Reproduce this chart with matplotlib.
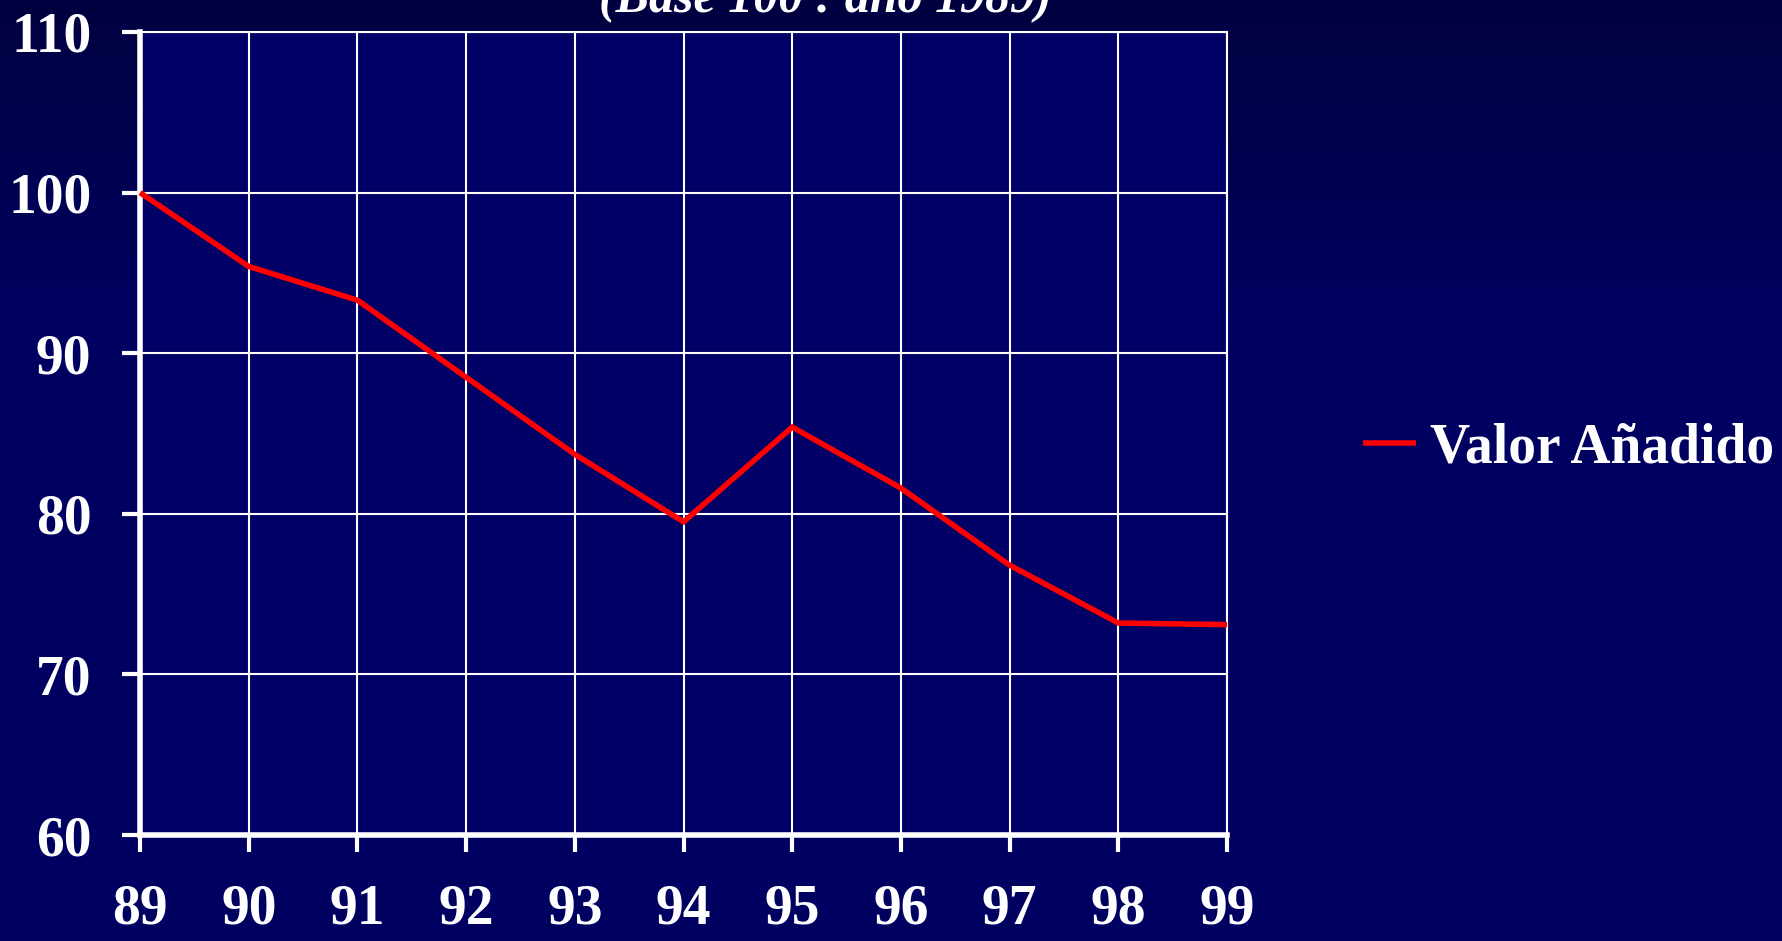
import numpy as np
import matplotlib
matplotlib.use('Agg')
import matplotlib.pyplot as plt

# index values, base 100 = 1989
years = ['89', '90', '91', '92', '93', '94', '95', '96', '97', '98', '99']
valor_anadido = [100, 95.4, 93.3, 88.5, 83.7, 79.5, 85.4, 81.6, 76.8, 73.2, 73.1]
y_ticks = [60, 70, 80, 90, 100, 110]

plt.rcParams['font.family'] = ['Liberation Serif', 'DejaVu Serif']
plt.rcParams['font.weight'] = 'bold'

fig = plt.figure(figsize=(17.82, 9.41), dpi=100)

# background gradient, darker at the top
bg = fig.add_axes([0, 0, 1, 1], zorder=-10)
grad = np.linspace(0, 1, 256).reshape(-1, 1)
top = np.array([0x00, 0x00, 0x40]) / 255
bot = np.array([0x00, 0x00, 0x60]) / 255
img = top + (bot - top) * np.clip(grad * 3, 0, 1)[..., None]
bg.imshow(img.reshape(256, 1, 3), aspect='auto', extent=[0, 1, 0, 1])
bg.axis('off')

ax = fig.add_axes([0.0786, 0.1126, 0.61, 0.8534])
ax.set_facecolor('#000066')
x = np.arange(len(years))
line, = ax.plot(x, valor_anadido, color='#ff0000', lw=4, solid_capstyle='butt',
                solid_joinstyle='miter', clip_on=False, zorder=5)

ax.set_xlim(0, len(years) - 1)
ax.set_ylim(60, 110)
ax.set_xticks(x)
ax.set_xticklabels(years)
ax.set_yticks(y_ticks)
ax.grid(True, color='white', lw=1.5)
ax.set_axisbelow(True)

for side in ['top', 'right']:
    ax.spines[side].set_color('white')
    ax.spines[side].set_linewidth(1.5)
for side in ['left', 'bottom']:
    ax.spines[side].set_color('white')
    ax.spines[side].set_linewidth(4)

ax.tick_params(axis='y', colors='white', length=13, width=3, labelsize=40, pad=22)
ax.tick_params(axis='x', colors='white', length=12, width=3, labelsize=40, pad=23)
for lab in ax.get_xticklabels() + ax.get_yticklabels():
    lab.set_fontweight('bold')

leg = fig.legend([line], ['Valor Añadido'], loc='center left',
                 bbox_to_anchor=(0.765, 0.523), frameon=False,
                 prop={'size': 40, 'weight': 'bold'}, handlelength=0.95,
                 handletextpad=0.25, borderaxespad=0, borderpad=0)
for t in leg.get_texts():
    t.set_color('white')

# title cut off at the top of the slide
fig.text(0.463, 1 - 12 / 941, '(Base 100 : año 1989)', color='white',
         fontsize=36, fontweight='bold', fontstyle='italic',
         ha='center', va='baseline')

fig.savefig('out.png', dpi=100)
